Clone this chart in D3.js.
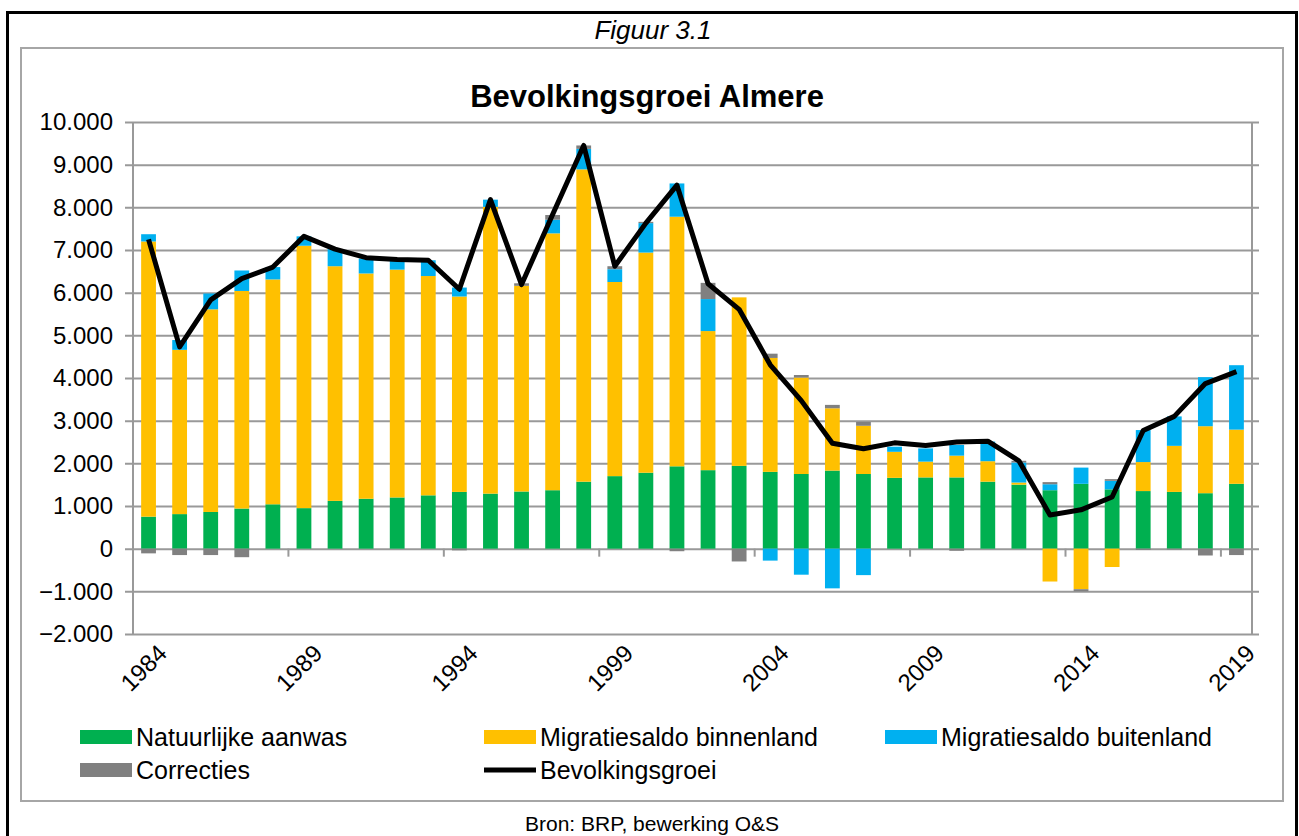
<!DOCTYPE html>
<html>
<head>
<meta charset="utf-8">
<script src="https://cdn.jsdelivr.net/npm/d3@7"></script>
<style>
  body { margin: 0; background: #fff; }
  text { font-family: "Liberation Sans", Arial, sans-serif; }
</style>
</head>
<body>
<script>
var width = 1299, height = 836

// data
var years = [1984,1985,1986,1987,1988,1989,1990,1991,1992,1993,1994,1995,1996,1997,1998,1999,2000,
             2001,2002,2003,2004,2005,2006,2007,2008,2009,2010,2011,2012,2013,2014,2015,2016,2017,2018,2019]
var natuurlijk = [750,810,860,940,1040,950,1120,1170,1200,1250,1330,1290,1340,1370,1570,1700,1780,
                  1930,1840,1940,1800,1750,1830,1750,1660,1670,1670,1570,1500,1370,1520,1390,1350,1330,1300,1520]
var binnenland = [6450,3850,4750,5100,5270,6150,5500,5280,5340,5140,4580,6720,4820,6020,7320,4550,5160,
                  5850,3260,3950,2670,2260,1460,1130,610,370,510,480,50,-770,-950,-430,680,1080,1570,1270]
var buitenland = [170,230,370,480,290,220,400,350,220,370,210,170,0,320,480,300,690,
                  780,750,0,-280,-610,-930,-620,120,310,250,460,470,140,380,200,750,690,1150,1510]
var correcties = [-110,-150,-150,-200,0,0,0,0,0,0,-40,0,60,110,80,70,30,
                  -60,380,-300,100,60,80,90,0,0,-50,0,40,50,-50,40,-30,-20,-160,-150]
var groei = [7250,4730,5830,6330,6600,7320,7020,6820,6780,6760,6080,8180,6190,7830,9450,6620,7630,
             8520,6210,5610,4310,3470,2470,2340,2480,2420,2500,2520,2060,790,910,1210,2770,3100,3870,4150]
var yTicks = [-2000,-1000,0,1000,2000,3000,4000,5000,6000,7000,8000,9000,10000]
var xLabels = ["1984","1989","1994","1999","2004","2009","2014","2019"]

var seriesNames = ["Natuurlijke aanwas", "Migratiesaldo binnenland", "Migratiesaldo buitenland", "Correcties"]
var colors = ["#00B050", "#FFC000", "#00B0F0", "#808080"]

var rows = years.map(function(y, i) {
    return {year: y, s0: natuurlijk[i], s1: binnenland[i], s2: buitenland[i], s3: correcties[i]}
})

var svg = d3.select("body").append("svg")
    .attr("width", width).attr("height", height)

// outer page border + chart frame
svg.append("rect").attr("x", 7.5).attr("y", 12.5).attr("width", 1289).attr("height", 840)
    .attr("fill", "none").attr("stroke", "#000").attr("stroke-width", 3)
svg.append("rect").attr("x", 21).attr("y", 48).attr("width", 1262).attr("height", 753)
    .attr("fill", "none").attr("stroke", "#a6a6a6").attr("stroke-width", 2)

svg.append("text").attr("x", 653).attr("y", 39).attr("text-anchor", "middle")
    .style("font-style", "italic").style("font-size", "26px").text("Figuur 3.1")
svg.append("text").attr("x", 647).attr("y", 107).attr("text-anchor", "middle")
    .style("font-weight", "bold").style("font-size", "31px").text("Bevolkingsgroei Almere")
svg.append("text").attr("x", 652).attr("y", 831).attr("text-anchor", "middle")
    .style("font-size", "21px").text("Bron: BRP, bewerking O&S")

var pLeft = 133, pRight = 1252, pTop = 122, pBottom = 634

var x = d3.scaleBand().domain(years).range([pLeft, pRight])
    .paddingInner(0.524).paddingOuter(0.262)
var y = d3.scaleLinear().domain([-2000, 10000]).range([pBottom, pTop])

var loc = d3.formatLocale({decimal: ",", thousands: ".", grouping: [3], currency: ["€", ""]})
var fmt = loc.format(",d")

// gridlines with tick marks sticking out left and right
var yGrid = d3.axisLeft(y).tickValues(yTicks).tickFormat("").tickSizeOuter(0)
var gGrid = svg.append("g").attr("transform", "translate(" + (pLeft - 8) + ",0)")
    .call(yGrid)
gGrid.selectAll(".tick line").attr("stroke", "#999").attr("stroke-width", 2)
    .attr("x1", 0).attr("x2", pRight - pLeft + 15)
gGrid.select(".domain").remove()

// y labels
var yAxis = d3.axisLeft(y).tickValues(yTicks).tickFormat(fmt).tickSize(0).tickPadding(0)
var gY = svg.append("g").attr("transform", "translate(113,0)").call(yAxis)
gY.select(".domain").remove()
gY.selectAll("text").style("font-size", "24px").attr("fill", "#000")
    .style("font-family", "'Liberation Sans', Arial, sans-serif")

// left and right axis lines
svg.append("line").attr("x1", pLeft).attr("x2", pLeft).attr("y1", pTop).attr("y2", pBottom)
    .attr("stroke", "#999").attr("stroke-width", 2)
svg.append("line").attr("x1", pRight).attr("x2", pRight).attr("y1", pTop).attr("y2", pBottom)
    .attr("stroke", "#999").attr("stroke-width", 2)

// stacked bars
var stack = d3.stack().keys(["s0", "s1", "s2", "s3"]).offset(d3.stackOffsetDiverging)
var stacked = stack(rows)

svg.append("g").selectAll("g").data(stacked).enter().append("g")
    .attr("fill", function(d, i) { return colors[i] })
    .selectAll("rect").data(function(d) { return d }).enter().append("rect")
    .attr("x", function(d) { return x(d.data.year) })
    .attr("width", x.bandwidth())
    .attr("y", function(d) { return y(Math.max(d[0], d[1])) })
    .attr("height", function(d) { return Math.abs(y(d[0]) - y(d[1])) })

// category tick marks every 5 years on zero line
var step = x.step()
svg.append("g").selectAll("line").data(d3.range(5, years.length, 5)).enter().append("line")
    .attr("x1", function(i) { return pLeft + i * step }).attr("x2", function(i) { return pLeft + i * step })
    .attr("y1", y(0)).attr("y2", y(0) + 8)
    .attr("stroke", "#999").attr("stroke-width", 2)

// x labels rotated
svg.append("g").selectAll("text").data(xLabels).enter().append("text")
    .attr("transform", function(d) {
        return "translate(" + (x(+d) + x.bandwidth() / 2 + 8) + "," + (pBottom + 9) + ") rotate(-45)"
    })
    .attr("text-anchor", "end").attr("dy", "0.7em")
    .style("font-size", "24px").text(function(d) { return d })

// population growth line
var line = d3.line()
    .x(function(d, i) { return x(years[i]) + x.bandwidth() / 2 })
    .y(function(d) { return y(d) })
svg.append("path").datum(groei).attr("d", line)
    .attr("fill", "none").attr("stroke", "#000").attr("stroke-width", 5)
    .attr("stroke-linejoin", "round")

// legend
var legendItems = [
    {name: seriesNames[0], color: colors[0], x: 80, y: 737, type: "rect"},
    {name: seriesNames[1], color: colors[1], x: 484, y: 737, type: "rect"},
    {name: seriesNames[2], color: colors[2], x: 885, y: 737, type: "rect"},
    {name: seriesNames[3], color: colors[3], x: 80, y: 770, type: "rect"},
    {name: "Bevolkingsgroei", color: "#000", x: 484, y: 770, type: "line"}
]
var lg = svg.append("g").selectAll("g").data(legendItems).enter().append("g")
    .attr("transform", function(d) { return "translate(" + d.x + "," + d.y + ")" })
lg.filter(function(d) { return d.type == "rect" }).append("rect")
    .attr("x", 0).attr("y", -7).attr("width", 52).attr("height", 14).attr("fill", function(d) { return d.color })
lg.filter(function(d) { return d.type == "line" }).append("line")
    .attr("x1", 0).attr("x2", 52).attr("y1", 0).attr("y2", 0).attr("stroke", "#000").attr("stroke-width", 5)
lg.append("text").attr("x", 56).attr("y", 0).attr("dy", "0.35em")
    .style("font-size", "25px").text(function(d) { return d.name })
</script>
</body>
</html>
